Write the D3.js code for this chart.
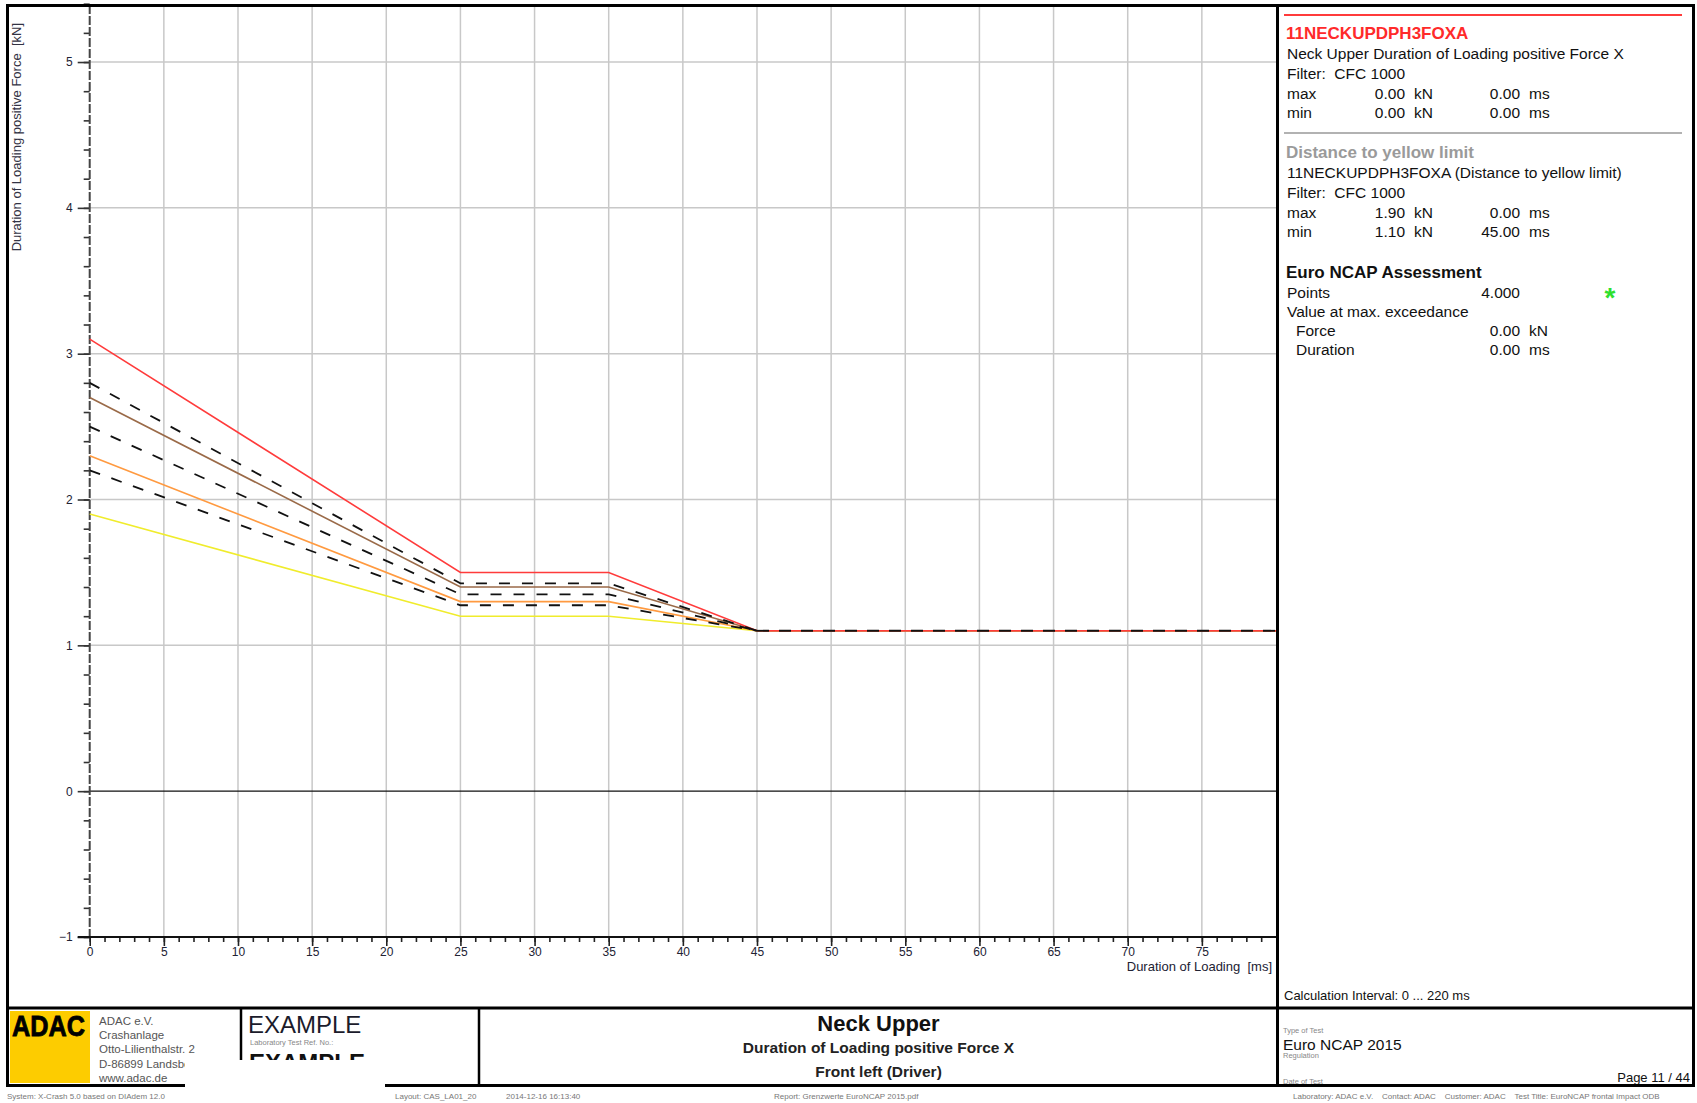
<!DOCTYPE html>
<html>
<head>
<meta charset="utf-8">
<script src="https://cdn.jsdelivr.net/npm/d3@7"></script>
<style>
  body { margin: 0; background: #fff; }
  svg { display: block; font-family: "Liberation Sans", Arial, sans-serif; }
  text { white-space: pre; }
</style>
</head>
<body>
<svg id="chart" width="1697" height="1103"></svg>
<script>
// limit curves, duration of loading [ms] vs force [kN]
const timeMs = [0, 25, 35, 45, 80];
const redLimit = [3.1, 1.5, 1.5, 1.1, 1.1];
const brownLimit = [2.7, 1.4, 1.4, 1.1, 1.1];
const orangeLimit = [2.3, 1.3, 1.3, 1.1, 1.1];
const yellowLimit = [1.9, 1.2, 1.2, 1.1, 1.1];
const dashUpper = [2.8, 1.425, 1.425, 1.1, 1.1];
const dashMiddle = [2.5, 1.35, 1.35, 1.1, 1.1];
const dashLower = [2.2, 1.275, 1.275, 1.1, 1.1];

const xMajorTicks = d3.range(0, 80, 5);
const xMinorTicks = d3.range(0, 80, 1);
const yMajorTicks = [-1, 0, 1, 2, 3, 4, 5];
const yMinorTicks = d3.range(-5, 28).map(d => d / 5);

const svg = d3.select('#chart');
const font = '"Liberation Sans", Arial, sans-serif';

const x = d3.scaleLinear().domain([0, 80]).range([89.7, 1276]);
const y = d3.scaleLinear().domain([-1, 5.4]).range([937, 3.7]);

// grid
const grid = svg.append('g');
grid.selectAll('line.v')
  .data(xMajorTicks.filter(d => d > 0))
  .enter().append('line')
  .attr('x1', d => x(d)).attr('x2', d => x(d))
  .attr('y1', 5).attr('y2', y(-1))
  .attr('stroke', '#c8c8c8').attr('stroke-width', 1.5);
grid.selectAll('line.h')
  .data(yMajorTicks.filter(d => d > 0))
  .enter().append('line')
  .attr('x1', x(0)).attr('x2', x(80))
  .attr('y1', d => y(d)).attr('y2', d => y(d))
  .attr('stroke', '#c8c8c8').attr('stroke-width', 1.5);
grid.append('line')
  .attr('x1', x(0)).attr('x2', x(80))
  .attr('y1', y(0)).attr('y2', y(0))
  .attr('stroke', '#111').attr('stroke-width', 1.3);

// y axis
const yMinor = svg.append('g')
  .attr('transform', `translate(${x(0)},0)`)
  .call(d3.axisLeft(y).tickValues(yMinorTicks).tickSize(6).tickFormat(''));
const yMajor = svg.append('g')
  .attr('transform', `translate(${x(0)},0)`)
  .call(d3.axisLeft(y).tickValues(yMajorTicks).tickSize(12).tickPadding(5).tickFormat(d3.format('d')));
[yMinor, yMajor].forEach(g => {
  g.select('.domain').remove();
  g.selectAll('line').attr('stroke', '#333').attr('stroke-width', 1.6);
});
yMajor.selectAll('text').attr('font-family', font).attr('font-size', 12).attr('fill', '#223');
svg.append('line')
  .attr('x1', x(0)).attr('x2', x(0))
  .attr('y1', 5).attr('y2', y(-1))
  .attr('stroke', '#444').attr('stroke-width', 2)
  .attr('stroke-dasharray', '9,2');

// x axis
const xMinor = svg.append('g')
  .attr('transform', `translate(0,${y(-1)})`)
  .call(d3.axisBottom(x).tickValues(xMinorTicks).tickSize(5).tickFormat(''));
const xMajor = svg.append('g')
  .attr('transform', `translate(0,${y(-1)})`)
  .call(d3.axisBottom(x).tickValues(xMajorTicks).tickSize(9).tickPadding(1).tickFormat(d3.format('d')));
[xMinor, xMajor].forEach(g => {
  g.select('.domain').remove();
  g.selectAll('line').attr('stroke', '#222').attr('stroke-width', 1.6);
});
xMajor.selectAll('text').attr('font-family', font).attr('font-size', 12).attr('fill', '#223');
svg.append('line')
  .attr('x1', x(0) - 12).attr('x2', x(80))
  .attr('y1', y(-1)).attr('y2', y(-1))
  .attr('stroke', '#111').attr('stroke-width', 2);

// axis titles
svg.append('text')
  .attr('transform', 'translate(21,23) rotate(-90)')
  .attr('text-anchor', 'end')
  .attr('font-family', font).attr('font-size', 13).attr('fill', '#334')
  .text('Duration of Loading positive Force  [kN]');
svg.append('text')
  .attr('x', 1272).attr('y', 971)
  .attr('text-anchor', 'end')
  .attr('font-family', font).attr('font-size', 13).attr('fill', '#223')
  .text('Duration of Loading  [ms]');

// curves
const pts = vals => vals.map((v, i) => [timeMs[i], v]);
const line = d3.line().x(d => x(d[0])).y(d => y(d[1]));
const solid = [
  { values: yellowLimit, color: '#f0ec2c' },
  { values: orangeLimit, color: '#ff9a40' },
  { values: brownLimit, color: '#9a6a48' },
  { values: redLimit, color: '#ff3b3b' }
];
svg.append('g').selectAll('path')
  .data(solid)
  .enter().append('path')
  .attr('d', d => line(pts(d.values)))
  .attr('fill', 'none')
  .attr('stroke', d => d.color)
  .attr('stroke-width', 1.6);

// dashed curves up to the knee at 45 ms, shared tail drawn once
const dashed = [dashUpper, dashMiddle, dashLower];
const dashG = svg.append('g')
  .attr('fill', 'none').attr('stroke', '#111')
  .attr('stroke-width', 1.8).attr('stroke-dasharray', '11,12');
dashG.selectAll('path.seg')
  .data(dashed)
  .enter().append('path')
  .attr('d', d => line(pts(d).slice(0, 4)));
dashG.append('path')
  .attr('d', line(pts(dashUpper).slice(3)))
  .attr('stroke-dasharray', '12,10');

// right info panel
function txt(px, py, s, opts = {}) {
  return svg.append('text')
    .attr('x', px).attr('y', py)
    .attr('font-family', font)
    .attr('font-size', opts.size || 15.5)
    .attr('font-weight', opts.weight || 'normal')
    .attr('fill', opts.color || '#111')
    .attr('text-anchor', opts.anchor || 'start')
    .text(s);
}
svg.append('line').attr('x1', 1284).attr('x2', 1682).attr('y1', 15).attr('y2', 15)
  .attr('stroke', '#ff3b3b').attr('stroke-width', 2);
txt(1286, 39, '11NECKUPDPH3FOXA', { size: 17, weight: 'bold', color: '#ff2a2a' });
txt(1287, 59, 'Neck Upper Duration of Loading positive Force X');
txt(1287, 79, 'Filter:  CFC 1000');
const rows1 = [['max', '0.00', '0.00', 99], ['min', '0.00', '0.00', 118]];
rows1.forEach(r => {
  txt(1287, r[3], r[0]);
  txt(1405, r[3], r[1], { anchor: 'end' });
  txt(1414, r[3], 'kN');
  txt(1520, r[3], r[2], { anchor: 'end' });
  txt(1529, r[3], 'ms');
});
svg.append('line').attr('x1', 1284).attr('x2', 1682).attr('y1', 133).attr('y2', 133)
  .attr('stroke', '#999').attr('stroke-width', 1.5);
txt(1286, 158, 'Distance to yellow limit', { size: 17, weight: 'bold', color: '#9a9a9a' });
txt(1287, 178, '11NECKUPDPH3FOXA (Distance to yellow limit)');
txt(1287, 198, 'Filter:  CFC 1000');
const rows2 = [['max', '1.90', '0.00', 218], ['min', '1.10', '45.00', 237]];
rows2.forEach(r => {
  txt(1287, r[3], r[0]);
  txt(1405, r[3], r[1], { anchor: 'end' });
  txt(1414, r[3], 'kN');
  txt(1520, r[3], r[2], { anchor: 'end' });
  txt(1529, r[3], 'ms');
});
txt(1286, 278, 'Euro NCAP Assessment', { size: 17, weight: 'bold', color: '#111' });
txt(1287, 298, 'Points');
txt(1520, 298, '4.000', { anchor: 'end' });
txt(1610, 307, '*', { size: 28, weight: 'bold', color: '#2fe02f', anchor: 'middle' });
txt(1287, 317, 'Value at max. exceedance');
txt(1296, 336, 'Force');
txt(1520, 336, '0.00', { anchor: 'end' });
txt(1529, 336, 'kN');
txt(1296, 355, 'Duration');
txt(1520, 355, '0.00', { anchor: 'end' });
txt(1529, 355, 'ms');
txt(1284, 1000, 'Calculation Interval: 0 ... 220 ms', { size: 13 });

// footer
svg.append('rect').attr('x', 10).attr('y', 1011).attr('width', 80).attr('height', 72).attr('fill', '#fdcc00');
svg.append('text').attr('x', 12).attr('y', 1036)
  .attr('font-family', font).attr('font-size', 29).attr('font-weight', 'bold').attr('fill', '#000')
  .attr('stroke', '#000').attr('stroke-width', 0.8)
  .attr('textLength', 73).attr('lengthAdjust', 'spacingAndGlyphs').text('ADAC');
const addr = ['ADAC e.V.', 'Crashanlage', 'Otto-Lilienthalstr. 2', 'D-86899 Landsberg', 'www.adac.de'];
addr.forEach((s, i) => txt(99, 1025 + i * 14.2, s, { size: 11.5, color: '#555' }));
txt(248, 1033, 'EXAMPLE', { size: 24, color: '#1b1b2b' });
txt(250, 1045, 'Laboratory Test Ref. No.:', { size: 7.5, color: '#888' });
txt(249, 1071, 'EXAMPLE', { size: 24, weight: 'bold', color: '#111' });

const midX = (479 + 1278) / 2;
txt(midX, 1031, 'Neck Upper', { size: 22, weight: 'bold', anchor: 'middle' });
txt(midX, 1053, 'Duration of Loading positive Force X', { size: 15.5, weight: 'bold', anchor: 'middle', color: '#222' });
txt(midX, 1077, 'Front left (Driver)', { size: 15.5, weight: 'bold', anchor: 'middle', color: '#222' });

txt(1283, 1033, 'Type of Test', { size: 7.5, color: '#888' });
txt(1283, 1050, 'Euro NCAP 2015', { size: 15.5, color: '#111' });
txt(1283, 1058, 'Regulation', { size: 7.5, color: '#888' });
txt(1283, 1084, 'Date of Test', { size: 7.5, color: '#888' });
txt(1690, 1082, 'Page 11 / 44', { size: 13, anchor: 'end' });

// frame
const frame = svg.append('g').attr('fill', 'none').attr('stroke', '#000');
frame.append('rect').attr('x', 7.5).attr('y', 5.5).attr('width', 1686).attr('height', 1080).attr('stroke-width', 3);
frame.append('line').attr('x1', 7.5).attr('x2', 1693.5).attr('y1', 1008).attr('y2', 1008).attr('stroke-width', 3);
frame.append('line').attr('x1', 1277.5).attr('x2', 1277.5).attr('y1', 5.5).attr('y2', 1085.5).attr('stroke-width', 3);
frame.append('line').attr('x1', 241).attr('x2', 241).attr('y1', 1008).attr('y2', 1085.5).attr('stroke-width', 2.5);
frame.append('line').attr('x1', 479).attr('x2', 479).attr('y1', 1008).attr('y2', 1085.5).attr('stroke-width', 2.5);

// bottom info line
txt(7, 1099, 'System: X-Crash 5.0 based on DIAdem 12.0', { size: 8, color: '#777' });
txt(395, 1099, 'Layout: CAS_LA01_20', { size: 8, color: '#777' });
txt(506, 1099, '2014-12-16 16:13:40', { size: 8, color: '#777' });
txt(774, 1099, 'Report: Grenzwerte EuroNCAP 2015.pdf', { size: 8, color: '#777' });
txt(1293, 1099, 'Laboratory: ADAC e.V.    Contact: ADAC    Customer: ADAC    Test Title: EuroNCAP frontal Impact ODB', { size: 8, color: '#777' });

// white cover patch
svg.append('rect').attr('x', 185).attr('y', 1060).attr('width', 200).attr('height', 43).attr('fill', '#fff');
</script>
</body>
</html>
